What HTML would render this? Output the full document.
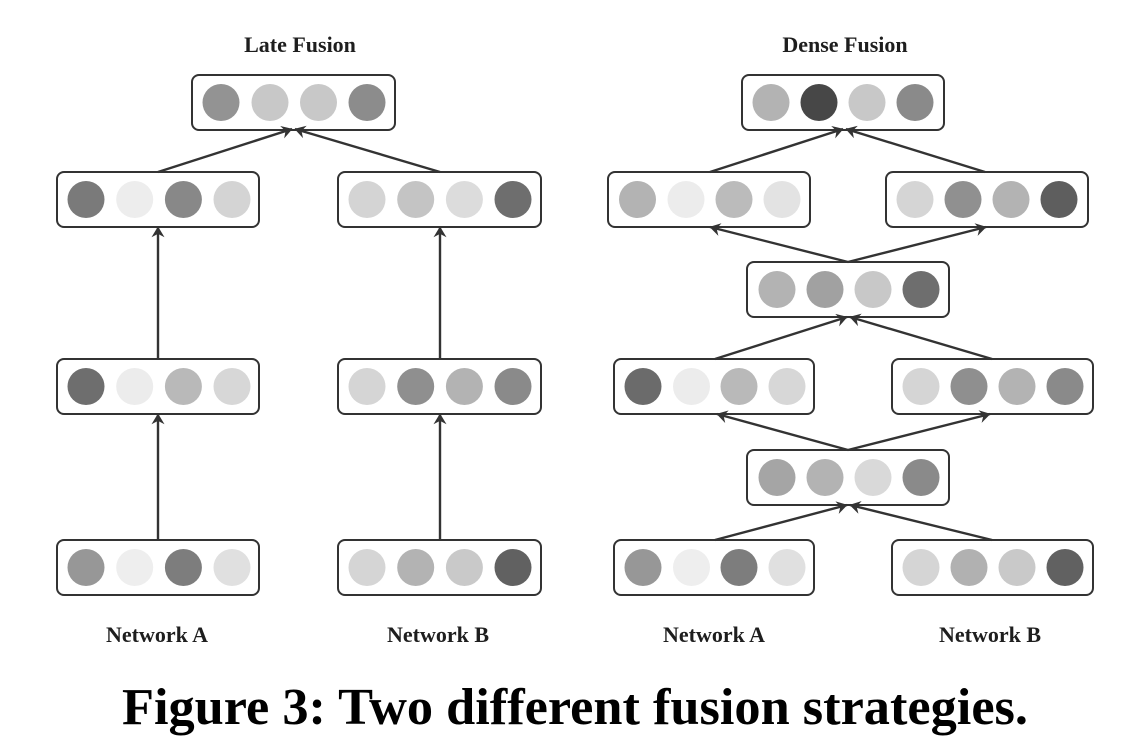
<!DOCTYPE html>
<html>
<head>
<meta charset="utf-8">
<style>
  html, body { margin: 0; padding: 0; background: #ffffff; }
  svg { display: block; }
  .lbl { font-family: "Liberation Serif", serif; font-weight: bold; font-size: 22px; fill: #1e1e1e; text-anchor: middle; }
  .cap { font-family: "Liberation Serif", serif; font-weight: bold; font-size: 52px; fill: #000; }
  .box { fill: #fff; stroke: #333; stroke-width: 2; }
  .ln { stroke: #333; stroke-width: 2.4; fill: none; }
</style>
</head>
<body>
<svg width="1142" height="754" viewBox="0 0 1142 754" xmlns="http://www.w3.org/2000/svg">
  <defs>
    <marker id="ah" viewBox="0 0 10 12" refX="9.5" refY="6" markerWidth="11" markerHeight="13" markerUnits="userSpaceOnUse" orient="auto">
      <path d="M0,0 L10,6 L0,12 L3.2,6 z" fill="#333"/>
    </marker>
  </defs>

  <!-- Titles -->
  <text class="lbl" x="300" y="52">Late Fusion</text>
  <text class="lbl" x="845" y="52">Dense Fusion</text>

  <!-- ===== LATE FUSION ===== -->
  <rect class="box" x="192" y="75" width="203" height="55" rx="7"/>
  <circle cx="221" cy="102.5" r="18.5" fill="#939393"/>
  <circle cx="270" cy="102.5" r="18.5" fill="#c8c8c8"/>
  <circle cx="318.5" cy="102.5" r="18.5" fill="#c8c8c8"/>
  <circle cx="367" cy="102.5" r="18.5" fill="#8c8c8c"/>

  <rect class="box" x="57" y="172" width="202" height="55" rx="7"/>
  <circle cx="86" cy="199.5" r="18.5" fill="#7a7a7a"/>
  <circle cx="134.7" cy="199.5" r="18.5" fill="#ededed"/>
  <circle cx="183.4" cy="199.5" r="18.5" fill="#888888"/>
  <circle cx="232" cy="199.5" r="18.5" fill="#d4d4d4"/>

  <rect class="box" x="338" y="172" width="203" height="55" rx="7"/>
  <circle cx="367" cy="199.5" r="18.5" fill="#d4d4d4"/>
  <circle cx="415.7" cy="199.5" r="18.5" fill="#c4c4c4"/>
  <circle cx="464.4" cy="199.5" r="18.5" fill="#dcdcdc"/>
  <circle cx="513" cy="199.5" r="18.5" fill="#6e6e6e"/>

  <rect class="box" x="57" y="359" width="202" height="55" rx="7"/>
  <circle cx="86" cy="386.5" r="18.5" fill="#6e6e6e"/>
  <circle cx="134.7" cy="386.5" r="18.5" fill="#ececec"/>
  <circle cx="183.4" cy="386.5" r="18.5" fill="#b9b9b9"/>
  <circle cx="232" cy="386.5" r="18.5" fill="#d7d7d7"/>

  <rect class="box" x="338" y="359" width="203" height="55" rx="7"/>
  <circle cx="367" cy="386.5" r="18.5" fill="#d5d5d5"/>
  <circle cx="415.7" cy="386.5" r="18.5" fill="#8f8f8f"/>
  <circle cx="464.4" cy="386.5" r="18.5" fill="#b3b3b3"/>
  <circle cx="513" cy="386.5" r="18.5" fill="#8a8a8a"/>

  <rect class="box" x="57" y="540" width="202" height="55" rx="7"/>
  <circle cx="86" cy="567.5" r="18.5" fill="#979797"/>
  <circle cx="134.7" cy="567.5" r="18.5" fill="#eeeeee"/>
  <circle cx="183.4" cy="567.5" r="18.5" fill="#7d7d7d"/>
  <circle cx="232" cy="567.5" r="18.5" fill="#e0e0e0"/>

  <rect class="box" x="338" y="540" width="203" height="55" rx="7"/>
  <circle cx="367" cy="567.5" r="18.5" fill="#d5d5d5"/>
  <circle cx="415.7" cy="567.5" r="18.5" fill="#b3b3b3"/>
  <circle cx="464.4" cy="567.5" r="18.5" fill="#c9c9c9"/>
  <circle cx="513" cy="567.5" r="18.5" fill="#616161"/>

  <line class="ln" x1="158" y1="172" x2="292" y2="129" marker-end="url(#ah)"/>
  <line class="ln" x1="440" y1="172" x2="295" y2="129" marker-end="url(#ah)"/>
  <line class="ln" x1="158" y1="359" x2="158" y2="227" marker-end="url(#ah)"/>
  <line class="ln" x1="440" y1="359" x2="440" y2="227" marker-end="url(#ah)"/>
  <line class="ln" x1="158" y1="540" x2="158" y2="414" marker-end="url(#ah)"/>
  <line class="ln" x1="440" y1="540" x2="440" y2="414" marker-end="url(#ah)"/>

  <text class="lbl" x="157" y="642">Network A</text>
  <text class="lbl" x="438" y="642">Network B</text>

  <!-- ===== DENSE FUSION ===== -->
  <rect class="box" x="742" y="75" width="202" height="55" rx="7"/>
  <circle cx="771" cy="102.5" r="18.5" fill="#b3b3b3"/>
  <circle cx="819" cy="102.5" r="18.5" fill="#474747"/>
  <circle cx="867" cy="102.5" r="18.5" fill="#c8c8c8"/>
  <circle cx="915" cy="102.5" r="18.5" fill="#8a8a8a"/>

  <rect class="box" x="608" y="172" width="202" height="55" rx="7"/>
  <circle cx="637.5" cy="199.5" r="18.5" fill="#b3b3b3"/>
  <circle cx="686" cy="199.5" r="18.5" fill="#ececec"/>
  <circle cx="734" cy="199.5" r="18.5" fill="#bbbbbb"/>
  <circle cx="782" cy="199.5" r="18.5" fill="#e3e3e3"/>

  <rect class="box" x="886" y="172" width="202" height="55" rx="7"/>
  <circle cx="915" cy="199.5" r="18.5" fill="#d5d5d5"/>
  <circle cx="963" cy="199.5" r="18.5" fill="#909090"/>
  <circle cx="1011" cy="199.5" r="18.5" fill="#b3b3b3"/>
  <circle cx="1059" cy="199.5" r="18.5" fill="#5e5e5e"/>

  <rect class="box" x="747" y="262" width="202" height="55" rx="7"/>
  <circle cx="777" cy="289.5" r="18.5" fill="#b3b3b3"/>
  <circle cx="825" cy="289.5" r="18.5" fill="#a1a1a1"/>
  <circle cx="873" cy="289.5" r="18.5" fill="#c8c8c8"/>
  <circle cx="921" cy="289.5" r="18.5" fill="#6e6e6e"/>

  <rect class="box" x="614" y="359" width="200" height="55" rx="7"/>
  <circle cx="643" cy="386.5" r="18.5" fill="#6b6b6b"/>
  <circle cx="691.5" cy="386.5" r="18.5" fill="#ececec"/>
  <circle cx="739" cy="386.5" r="18.5" fill="#b9b9b9"/>
  <circle cx="787" cy="386.5" r="18.5" fill="#d7d7d7"/>

  <rect class="box" x="892" y="359" width="201" height="55" rx="7"/>
  <circle cx="921" cy="386.5" r="18.5" fill="#d5d5d5"/>
  <circle cx="969" cy="386.5" r="18.5" fill="#8f8f8f"/>
  <circle cx="1017" cy="386.5" r="18.5" fill="#b3b3b3"/>
  <circle cx="1065" cy="386.5" r="18.5" fill="#8a8a8a"/>

  <rect class="box" x="747" y="450" width="202" height="55" rx="7"/>
  <circle cx="777" cy="477.5" r="18.5" fill="#a5a5a5"/>
  <circle cx="825" cy="477.5" r="18.5" fill="#b3b3b3"/>
  <circle cx="873" cy="477.5" r="18.5" fill="#d9d9d9"/>
  <circle cx="921" cy="477.5" r="18.5" fill="#8a8a8a"/>

  <rect class="box" x="614" y="540" width="200" height="55" rx="7"/>
  <circle cx="643" cy="567.5" r="18.5" fill="#979797"/>
  <circle cx="691.5" cy="567.5" r="18.5" fill="#eeeeee"/>
  <circle cx="739" cy="567.5" r="18.5" fill="#7d7d7d"/>
  <circle cx="787" cy="567.5" r="18.5" fill="#e0e0e0"/>

  <rect class="box" x="892" y="540" width="201" height="55" rx="7"/>
  <circle cx="921" cy="567.5" r="18.5" fill="#d5d5d5"/>
  <circle cx="969" cy="567.5" r="18.5" fill="#b1b1b1"/>
  <circle cx="1017" cy="567.5" r="18.5" fill="#c9c9c9"/>
  <circle cx="1065" cy="567.5" r="18.5" fill="#616161"/>

  <line class="ln" x1="710" y1="172" x2="843" y2="129" marker-end="url(#ah)"/>
  <line class="ln" x1="985" y1="172" x2="846" y2="129" marker-end="url(#ah)"/>

  <line class="ln" x1="848" y1="262" x2="710" y2="227" marker-end="url(#ah)"/>
  <line class="ln" x1="848" y1="262" x2="986" y2="227" marker-end="url(#ah)"/>

  <line class="ln" x1="715" y1="359" x2="847" y2="317" marker-end="url(#ah)"/>
  <line class="ln" x1="992" y1="359" x2="850" y2="317" marker-end="url(#ah)"/>

  <line class="ln" x1="848" y1="450" x2="717" y2="414" marker-end="url(#ah)"/>
  <line class="ln" x1="848" y1="450" x2="990" y2="414" marker-end="url(#ah)"/>

  <line class="ln" x1="715" y1="540" x2="847" y2="505" marker-end="url(#ah)"/>
  <line class="ln" x1="992" y1="540" x2="850" y2="505" marker-end="url(#ah)"/>

  <text class="lbl" x="714" y="642">Network A</text>
  <text class="lbl" x="990" y="642">Network B</text>

  <text class="cap" x="122" y="724" textLength="906" lengthAdjust="spacingAndGlyphs">Figure 3: Two different fusion strategies.</text>
</svg>
</body>
</html>
